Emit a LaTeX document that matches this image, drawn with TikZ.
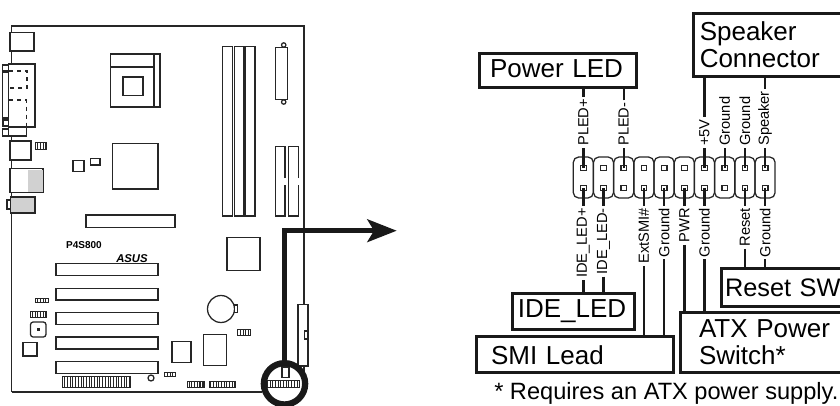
\documentclass[tikz,border=0pt]{standalone}
\usepackage{fontspec}
\setmainfont{Liberation Sans}
\usetikzlibrary{arrows.meta}
\begin{document}
\begin{tikzpicture}[x=0.75pt,y=-0.75pt]
    \tikzstyle{part}=[draw=black!85,line width=0.95pt,fill=white]
    \tikzstyle{hdr}=[draw=black!85,line width=0.65pt,step=2.7]
    \tikzstyle{lbox}=[draw=black!90,line width=2.1pt,anchor=north west,align=left,inner ysep=0pt,font=\fontsize{19.5}{20}\selectfont]
    \tikzstyle{wire}=[draw=black!90,line width=1.8pt]
    \tikzstyle{cell}=[draw=black!85,line width=0.95pt,rounded corners=4pt]
    \tikzstyle{pinn}=[draw=black!85,fill=white,line width=0.9pt,minimum size=4.2pt,inner sep=0pt]
    \tikzstyle{plab}=[rotate=90,inner xsep=1.5pt,inner ysep=0pt,font=\fontsize{11}{11}\selectfont]
    \tikzstyle{marrs}=[draw=black!90,line width=3.7pt,-{Stealth[length=22pt,width=17pt,inset=5pt]}]

    \clip (0,0) rectangle (840,405);

    % board
    \draw[part,fill=none] (11.5,392) -- (11.5,26) -- (304,26) -- (304,372);
    \draw[part,fill=none] (11.5,392) -- (262,392);

    % back panel
    \foreach \xa/\ya/\xb/\yb in {10/32.5/34/51, 2.5/65/9/71, 2.5/72/8.5/118, 3/120/9/126, 2.5/129/8.5/136, 8.5/64/35/127, 8.5/127/26.5/136, 10/141/31/160, 10/168.5/43/192.5, 7/200/11/209}
        \draw[part] (\xa,\ya) rectangle (\xb,\yb);
    \draw[part,dashed] (9,71) -- (27,71) -- (27,88) -- (9,88);
    \draw[part,dashed] (9,100) -- (26.5,100) -- (26.5,127);
    \fill[black!18] (27.5,169.5) rectangle (42.5,192);
    \draw[part,fill=black!18] (10.5,197) rectangle (35,213);

    % socket and chips
    \draw[part] (110.5,54) rectangle (160,107);
    \draw[part] (110.5,67) -- (154,67);
    \draw[part] (154,54) -- (154,107);
    \foreach \xa/\ya/\xb/\yb in {123/77/143/95.5, 112.5/143.5/158/189, 73/160.5/84/171.5, 90.5/158.5/100/165, 86/215/175/227.5, 56/263.5/158/275.5, 56/288.5/158/300, 56/312.5/158/324.5, 56/337/158/349, 56/361.5/158/373.5, 23/342.5/37/356, 172/341.5/191/362.5, 203.5/334.5/226.5/365.5, 227/237.5/260/270.5}
        \draw[part] (\xa,\ya) rectangle (\xb,\yb);

    % memory and drive slots
    \foreach \xa/\xb in {222.7/232.5, 234.5/244, 245.5/255}
        \draw[part] (\xa,46.5) rectangle (\xb,216);
    \draw[part] (283.7,45) circle (2.2);
    \draw[part] (283.7,102) circle (2.2);
    \draw[part] (275.5,47.5) rectangle (287.5,99.5);
    \draw[part] (285,178) -- (285,146.5) -- (275.5,146.5) -- (275.5,216) -- (285,216) -- (285,185);
    \draw[part] (298.5,178) -- (298.5,146.5) -- (288.5,146.5) -- (288.5,216) -- (298.5,216) -- (298.5,185);

    % battery and lower right
    \draw[part] (221,309) circle (13.5);
    \draw[part] (234.3,305) rectangle (237.8,312.7);
    \draw[part] (298,304.5) rectangle (308,366);
    \draw[part] (304.5,331) rectangle (308,339);
    \draw[part,rounded corners=2pt] (30.5,322) rectangle (46,337);
    \fill[black!85] (37,328) rectangle (39.5,330.5);
    \draw[part] (151,378) circle (3);
    \draw[part] (282,367) rectangle (289,377.5);

    % small pin headers
    \foreach \xa/\ya/\xb/\yb in {35.5/142/46/149, 35/298.5/48/302.5, 30/311/46/317, 62/376.5/130/387, 164/372.5/175/376, 187/381/204/387, 200/381.5/203/387, 209.5/381/235.5/387, 237/329/250/335.5, 267.5/380.5/299.5/387}
    {
        \fill[white] (\xa,\ya) rectangle (\xb,\yb);
        \draw[hdr] (\xa,\ya) grid (\xb,\yb);
        \draw[hdr] (\xa,\ya) rectangle (\xb,\yb);
    }
    \node[font=\fontsize{7.5}{7.5}\selectfont\bfseries,inner sep=0pt] (model) at (84,245) {P4S800};
    \node[font=\fontsize{8.5}{8.5}\selectfont\bfseries\itshape,inner sep=0pt] (logo) at (132,258.5) {ASUS};

    \node[circle,draw=black!90,line width=4.7pt,minimum size=31pt,inner sep=0pt] (marker) at (284.5,383.8) {};
    \coordinate (arrowend) at (396.7,230.7);
    \draw[marrs] (marker.north) |- (arrowend);

    % header
    \foreach \i in {1,...,10}
    {
        \pgfmathsetmacro{\px}{583.3+20.2*(\i-1)}
        \draw[cell] (\px-10,157) rectangle (\px+10,198);
        \node[pinn] (t\i) at (\px,168) {};
        \node[pinn] (b\i) at (\px,188) {};
    }

    % connector boxes
    \node[lbox,minimum width=117.75pt,minimum height=25.5pt,text width=101.75pt,inner xsep=8pt,text depth=3pt] (powerled) at (478,52) {Power LED};
    \node[lbox,minimum width=126pt,minimum height=47.25pt,text width=116pt,inner xsep=5pt] (speaker) at (691.7,12) {Speaker\\Connector};
    \node[lbox,minimum width=91.5pt,minimum height=27.2pt,text width=82.9pt,inner xsep=4.3pt] (ideled) at (510.7,291.7) {IDE\_LED};
    \node[lbox,minimum width=147.75pt,minimum height=26.8pt,text width=125.75pt,inner xsep=11pt,text height=15.7pt] (smi) at (475,335) {SMI Lead};
    \node[lbox,minimum width=135.75pt,minimum height=45pt,text width=107.75pt,inner xsep=14pt] (atx) at (679,310.7) {ATX Power\\Switch*};
    \node[lbox,minimum width=105pt,minimum height=28.5pt,text width=99.5pt,inner xsep=2.75pt,font=\fontsize{19}{20}\selectfont] (resetsw) at (720,267) {Reset SW};

    % labels above the header
    \foreach \i/\name/\txt in {1/a/PLED+, 3/b/PLED-, 7/c/+5V, 8/d/Ground, 9/e/Ground, 10/f/Speaker}
    {
        \node[plab,anchor=west] (up\name) at (t\i |- 0,148) {\txt};
        \draw[wire] (t\i.center) -- (up\name.west);
    }
    \draw[wire] (upa.east) -- (upa.east |- powerled.south);
    \draw[wire] (upb.east) -- (upb.east |- powerled.south);
    \draw[wire] (upc.east) -- (upc.east |- speaker.south);
    \draw[wire] (upf.east) -- (upf.east |- speaker.south);

    % labels below the header
    \foreach \i/\name/\txt in {1/a/IDE\_LED+, 2/b/IDE\_LED-, 4/c/ExtSMI\#, 5/d/Ground, 6/e/PWR, 7/f/Ground, 9/g/Reset, 10/h/Ground}
    {
        \node[plab,anchor=east] (dn\name) at (b\i |- 0,206) {\txt};
        \draw[wire] (b\i.center) -- (dn\name.east);
    }
    \draw[wire] (dna.west) -- (dna.west |- ideled.north);
    \draw[wire] (dnb.west) -- (dnb.west |- ideled.north);
    \draw[wire] (dnc.west) -- (dnc.west |- smi.north);
    \draw[wire] (dnd.west) -- (dnd.west |- smi.north);
    \draw[wire] (dne.west) -- (dne.west |- atx.north);
    \draw[wire] (dnf.west) -- (dnf.west |- atx.north);
    \draw[wire] (dng.west) -- (dng.west |- resetsw.north);
    \draw[wire] (dnh.west) -- (dnh.west |- resetsw.north);

    \node[anchor=base west,inner sep=0pt,font=\fontsize{17.7}{17.7}\selectfont] (note) at (494,399) {* Requires an ATX power supply.};
\end{tikzpicture}
\end{document}
